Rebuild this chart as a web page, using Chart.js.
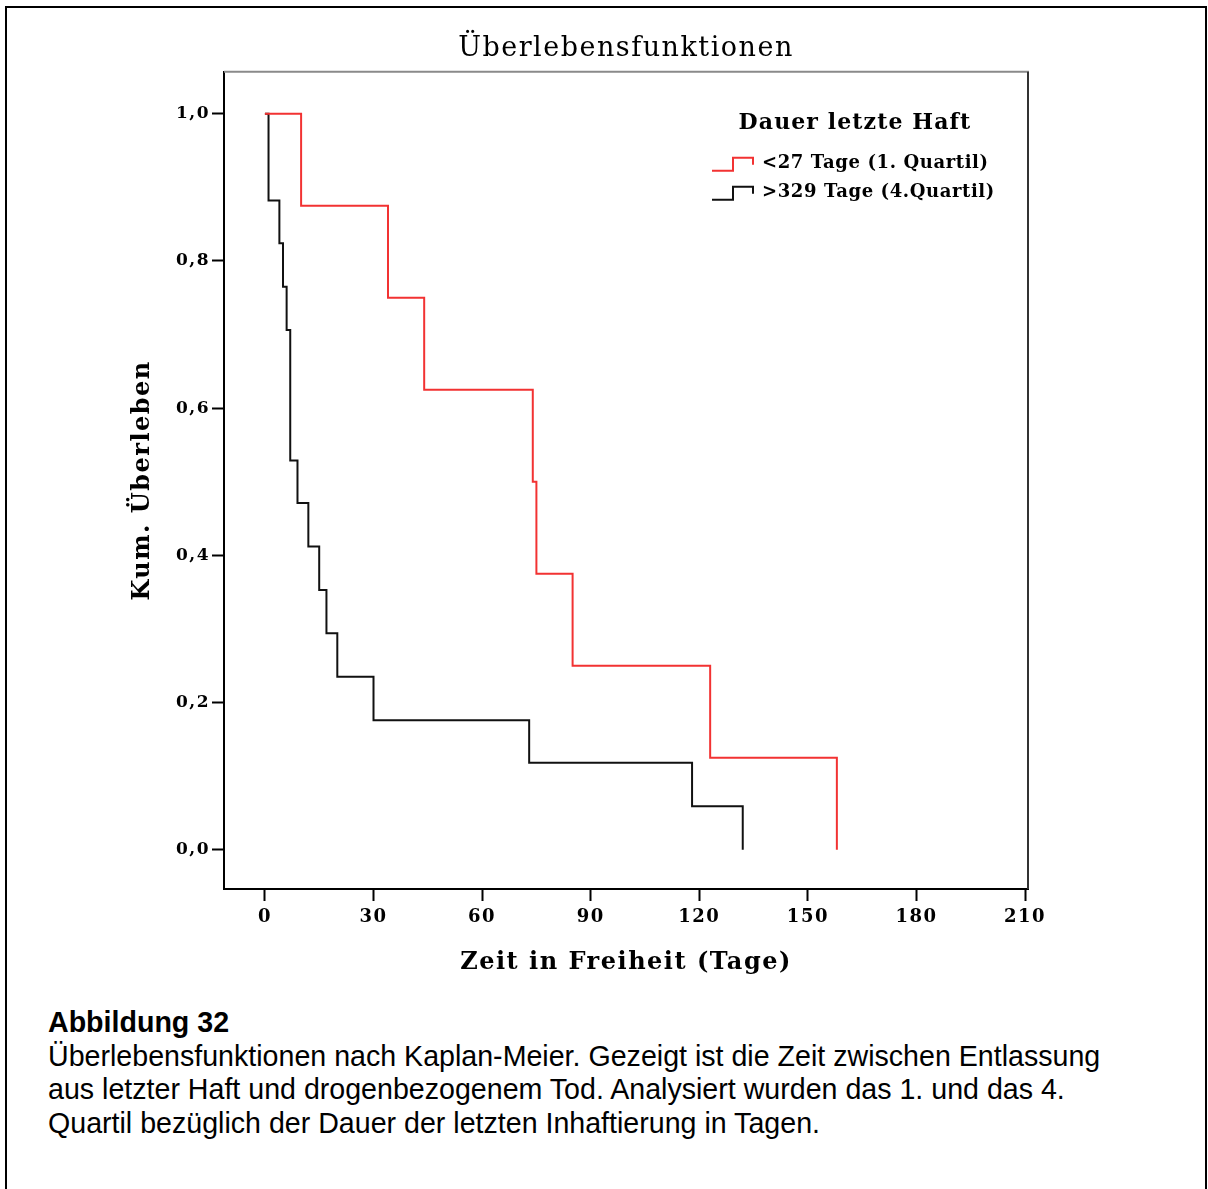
<!DOCTYPE html>
<html>
<head>
<meta charset="utf-8">
<script src="https://cdn.jsdelivr.net/npm/chart.js@4/dist/chart.umd.min.js"></script>
<style>
  html, body { margin: 0; padding: 0; background: #fff; overflow: hidden; }
  body { width: 1208px; height: 1189px; position: relative; }
  #frame { position: absolute; left: 5px; top: 6px; width: 1202px; height: 1300px;
           border: 2px solid #000; border-bottom: none; box-sizing: border-box; }
  #wrap { position: absolute; left: 0; top: 0; width: 1208px; height: 1000px; }
  #caption { position: absolute; left: 48px; top: 1006px; color: #000;
             font-family: 'Liberation Sans', Arial, sans-serif; font-size: 28.6px; line-height: 33.5px; }
  #caption b { font-weight: bold; }
</style>
</head>
<body>
<div id="frame"></div>
<div id="wrap"><canvas id="km" width="1208" height="1000"></canvas></div>
<div id="caption">
  <b>Abbildung 32</b><br>
  Überlebensfunktionen nach Kaplan-Meier. Gezeigt ist die Zeit zwischen Entlassung<br>
  aus letzter Haft und drogenbezogenem Tod. Analysiert wurden das 1. und das 4.<br>
  Quartil bezüglich der Dauer der letzten Inhaftierung in Tagen.
</div>
<script>
// Kaplan-Meier step data: event times (days) and cumulative survival after each event
const redTimes = [0, 10, 34, 44, 74, 75, 85, 123, 158];
const redSurvival = [1.0, 0.875, 0.75, 0.625, 0.5, 0.375, 0.25, 0.125, 0.0];
const blackTimes = [0, 1, 4, 5, 6, 7, 9, 12, 15, 17, 20, 30, 73, 118, 132];
const blackSurvival = [1.0, 0.882, 0.824, 0.765, 0.706, 0.529, 0.471, 0.412, 0.353, 0.294, 0.235, 0.176, 0.118, 0.059, 0.0];

const seriesLabels = ['<27 Tage (1. Quartil)', '>329 Tage (4.Quartil)'];
const legendTitle = 'Dauer letzte Haft';
const chartTitle = 'Überlebensfunktionen';
const xTitle = 'Zeit in Freiheit (Tage)';
const yTitle = 'Kum. Überleben';
const xTicks = [0, 30, 60, 90, 120, 150, 180, 210];
const yTicks = [0.0, 0.2, 0.4, 0.6, 0.8, 1.0];

const SERIF = "'DejaVu Serif', 'Liberation Serif', serif";
const RED = 'rgb(242, 50, 50)';
const BLACK = '#111';

const toPoints = (xs, ys) => xs.map((x, i) => ({ x: x, y: ys[i] }));

// Slightly spaced lettering for the chart's own texts (title, axis titles, tick labels)
const spacedText = {
  id: 'spacedText',
  beforeDraw(chart) { chart.ctx.letterSpacing = '1.5px'; },
  afterDraw(chart) { chart.ctx.letterSpacing = '0px'; }
};

// Frame: grey top edge and dark right edge of the plot box
const plotFrame = {
  id: 'plotFrame',
  afterDatasetsDraw(chart) {
    const { ctx, chartArea: a } = chart;
    ctx.save();
    ctx.lineWidth = 2;
    ctx.strokeStyle = '#8a8a8a';
    ctx.beginPath(); ctx.moveTo(a.left, a.top); ctx.lineTo(a.right + 1, a.top); ctx.stroke();
    ctx.strokeStyle = '#333';
    ctx.beginPath(); ctx.moveTo(a.right, a.top); ctx.lineTo(a.right, a.bottom); ctx.stroke();
    ctx.restore();
  }
};

// Legend drawn inside the plot area, with step-shaped line keys
const stepLegend = {
  id: 'stepLegend',
  afterDraw(chart) {
    const { ctx, chartArea: a } = chart;
    ctx.save();
    ctx.fillStyle = '#000';
    ctx.textBaseline = 'middle';
    ctx.textAlign = 'center';
    ctx.letterSpacing = '1.1px';
    ctx.font = '600 22px ' + SERIF;
    ctx.fillText(legendTitle, a.right - 173, a.top + 51);
    chart.data.datasets.forEach((ds, i) => {
      const cy = a.top + 92 + i * 29;
      const x0 = a.right - 316;
      ctx.strokeStyle = ds.borderColor;
      ctx.lineWidth = 2;
      ctx.beginPath();
      ctx.moveTo(x0, cy + 7);
      ctx.lineTo(x0 + 21, cy + 7);
      ctx.lineTo(x0 + 21, cy - 6);
      ctx.lineTo(x0 + 41, cy - 6);
      ctx.lineTo(x0 + 41, cy + 1);
      ctx.stroke();
      ctx.textAlign = 'left';
      ctx.letterSpacing = '0.6px';
      ctx.font = 'bold 18px ' + SERIF;
      ctx.fillStyle = '#000';
      ctx.fillText(ds.label, x0 + 50, cy);
    });
    ctx.restore();
  }
};

new Chart(document.getElementById('km'), {
  type: 'line',
  data: {
    datasets: [
      { label: seriesLabels[0], data: toPoints(redTimes, redSurvival),
        borderColor: RED, borderWidth: 2, stepped: 'before', pointRadius: 0, fill: false },
      { label: seriesLabels[1], data: toPoints(blackTimes, blackSurvival),
        borderColor: BLACK, borderWidth: 2, stepped: 'before', pointRadius: 0, fill: false }
    ]
  },
  options: {
    responsive: false,
    animation: false,
    devicePixelRatio: 1,
    layout: { padding: { left: 0, right: 180, top: 0, bottom: 0 } },
    plugins: {
      legend: { display: false },
      tooltip: { enabled: false },
      title: {
        display: true, text: chartTitle, fullSize: false, color: '#000',
        font: { family: SERIF, size: 27, weight: 'normal' },
        padding: { top: 33, bottom: 6.4 }
      }
    },
    scales: {
      x: {
        type: 'linear', min: -11.3, max: 210.8,
        afterBuildTicks(s) { s.ticks = xTicks.map(v => ({ value: v })); },
        afterFit(s) { s.height = 111; },
        border: { display: true, color: '#000', width: 2 },
        grid: { display: true, drawOnChartArea: false, drawTicks: true, tickLength: 12, tickWidth: 2, tickColor: '#000' },
        ticks: { color: '#000', padding: 6, maxRotation: 0, font: { family: SERIF, size: 18, weight: 'bold' },
                 callback: v => String(v) },
        title: { display: true, text: xTitle, color: '#000', padding: { top: 0, bottom: 23 },
                 font: { family: SERIF, size: 24, weight: 'bold' } }
      },
      y: {
        type: 'linear', min: -0.0534, max: 1.057,
        afterBuildTicks(s) { s.ticks = yTicks.map(v => ({ value: v })); },
        afterFit(s) { s.width = 224; },
        border: { display: true, color: '#000', width: 2 },
        grid: { display: true, drawOnChartArea: false, drawTicks: true, tickLength: 12, tickWidth: 2, tickColor: '#000' },
        ticks: { color: '#000', padding: 2, font: { family: SERIF, size: 17, weight: 'bold' },
                 callback: v => v.toFixed(1).replace('.', ',') },
        title: { display: true, text: yTitle, color: '#000', padding: { top: 128.6, bottom: 0 },
                 font: { family: SERIF, size: 24, weight: 'bold' } }
      }
    }
  },
  plugins: [spacedText, plotFrame, stepLegend]
});
</script>
</body>
</html>
